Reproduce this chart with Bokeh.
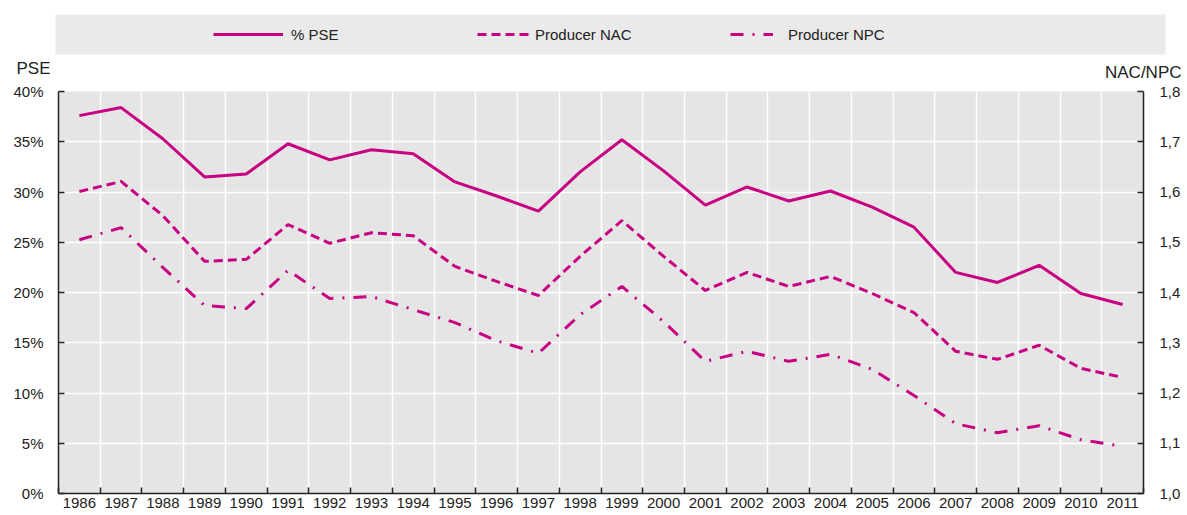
from bokeh.plotting import figure
from bokeh.models import (Range1d, LinearAxis, FixedTicker, CustomJSTickFormatter,
                          Legend, LegendItem, Label, BoxAnnotation)
from bokeh.layouts import column
from bokeh.embed import file_html
from bokeh.resources import INLINE

years = list(range(1986, 2012))
pse = [37.6, 38.4, 35.3, 31.5, 31.8, 34.8, 33.2, 34.2, 33.8, 31.0, 29.6, 28.1, 32.0,
       35.2, 32.1, 28.7, 30.5, 29.1, 30.1, 28.5, 26.5, 22.0, 21.0, 22.7, 19.9, 18.8]
nac = [1.601, 1.621, 1.553, 1.462, 1.466, 1.535, 1.498, 1.519, 1.513, 1.452, 1.422,
       1.394, 1.472, 1.543, 1.472, 1.404, 1.440, 1.412, 1.432, 1.398, 1.360, 1.283,
       1.267, 1.295, 1.249, 1.231]
npc = [1.505, 1.529, 1.450, 1.374, 1.368, 1.444, 1.388, 1.392, 1.366, 1.340, 1.304,
       1.279, 1.356, 1.412, 1.342, 1.263, 1.283, 1.263, 1.277, 1.247, 1.195, 1.139,
       1.121, 1.135, 1.107, 1.094]
pse_ticks = [0, 5, 10, 15, 20, 25, 30, 35, 40]
ratio_ticks = [1.0, 1.1, 1.2, 1.3, 1.4, 1.5, 1.6, 1.7, 1.8]
series_labels = ["% PSE", "Producer NAC", "Producer NPC"]
left_title = "PSE"
right_title = "NAC/NPC"

COLOR = "#C80082"
FONT = "Liberation Sans"
TEXT = "#222222"
AXIS = "#222222"
DASH_NAC = "9 5"
DASH_NPC = "13 9 2 9"

W, H = 1187, 515
HEAD_H = 82

# ---------------- main chart ----------------
p = figure(width=W, height=H - HEAD_H,
           x_range=Range1d(years[0] - 0.5, years[-1] + 0.5),
           y_range=Range1d(pse_ticks[0], pse_ticks[-1]),
           output_backend="svg", toolbar_location=None,
           min_border_left=58, min_border_right=44, min_border_top=9, min_border_bottom=22,
           background_fill_color="#E5E5E5", border_fill_color="white",
           outline_line_color=None)
p.frame_align = False
p.extra_y_ranges = {"r": Range1d(ratio_ticks[0], ratio_ticks[-1])}

xt = FixedTicker(ticks=years, minor_ticks=[y - 0.5 for y in years] + [years[-1] + 0.5])
p.xaxis.ticker = xt
p.xgrid.ticker = xt
p.xaxis.major_tick_in = 0
p.xaxis.major_tick_out = 0
p.xaxis.minor_tick_in = 6
p.xaxis.minor_tick_out = 0
p.xaxis.minor_tick_line_color = AXIS
p.xaxis.minor_tick_line_width = 1.5
p.xaxis.major_label_standoff = 4
p.xgrid.grid_line_color = None
p.xgrid.minor_grid_line_color = "white"
p.xgrid.minor_grid_line_width = 1.5

yt = FixedTicker(ticks=pse_ticks)
p.yaxis.ticker = yt
p.ygrid.ticker = yt
p.yaxis.formatter = CustomJSTickFormatter(code="return tick + '%';")
p.yaxis.major_tick_in = 6
p.yaxis.major_tick_out = 0
p.yaxis.minor_tick_line_color = None
p.yaxis.major_label_standoff = 15
p.ygrid.grid_line_color = "white"
p.ygrid.grid_line_width = 1.5

right = LinearAxis(y_range_name="r", ticker=FixedTicker(ticks=ratio_ticks),
                   formatter=CustomJSTickFormatter(code="return tick.toFixed(1).replace('.', ',');"))
right.major_tick_in = 6
right.major_tick_out = 0
right.minor_tick_line_color = None
right.major_label_standoff = 16
p.add_layout(right, "right")

for ax in [p.xaxis[0], p.yaxis[0], right]:
    ax.axis_line_color = AXIS
    ax.axis_line_width = 1.5
    ax.major_tick_line_width = 1.5
    ax.major_label_text_font = FONT
    ax.major_label_text_font_size = "15px"
    ax.major_label_text_color = TEXT
p.xaxis.major_tick_line_color = None
p.yaxis.major_tick_line_color = AXIS
right.major_tick_line_color = AXIS

p.line(years, pse, line_color=COLOR, line_width=3)
p.line(years, nac, y_range_name="r", line_color=COLOR, line_width=3, line_dash=DASH_NAC)
p.line(years, npc, y_range_name="r", line_color=COLOR, line_width=3, line_dash=DASH_NPC)

# ---------------- header: legend band + axis titles ----------------
h = figure(width=W, height=HEAD_H, x_range=Range1d(0, W), y_range=Range1d(HEAD_H, 0),
           output_backend="svg", toolbar_location=None,
           x_axis_location=None, y_axis_location=None,
           min_border_left=0, min_border_right=0, min_border_top=0, min_border_bottom=0,
           background_fill_color="white", border_fill_color="white", outline_line_color=None)
h.frame_align = False
h.grid.visible = False

h.add_layout(BoxAnnotation(left=55, right=1165, top=14, bottom=54,
                           fill_color="#EAEAEA", fill_alpha=1, line_color=None))

# legend proxies (their data lies outside this header's ranges, so only the legend shows them)
g1 = h.line(years, pse, line_color=COLOR, line_width=3)
g2 = h.line(years, pse, line_color=COLOR, line_width=3, line_dash=DASH_NAC)
g3 = h.line(years, pse, line_color=COLOR, line_width=3, line_dash=DASH_NPC)

for label, rend, x, gw, so in [(series_labels[0], g1, 213, 70, 8),
                               (series_labels[1], g2, 477, 52, 6),
                               (series_labels[2], g3, 730, 43, 15)]:
    lg = Legend(items=[LegendItem(label=label, renderers=[rend])],
                orientation="horizontal", location=(x, HEAD_H - 54), padding=0, spacing=0,
                margin=0, glyph_width=gw, glyph_height=40, label_height=40, label_width=20,
                label_standoff=so, border_line_color=None, background_fill_alpha=0,
                label_text_font=FONT, label_text_font_size="15px", label_text_color=TEXT)
    h.add_layout(lg, "center")

h.add_layout(Label(x=50, y=68, text=left_title, text_align="right",
                   text_baseline="middle", text_font=FONT, text_font_size="17px",
                   text_color=TEXT))
h.add_layout(Label(x=1181, y=72, text=right_title, text_align="right",
                   text_baseline="middle", text_font=FONT, text_font_size="17px",
                   text_color=TEXT))

layout = column(h, p, spacing=0)
open("out.html", "w").write(file_html(layout, INLINE))
